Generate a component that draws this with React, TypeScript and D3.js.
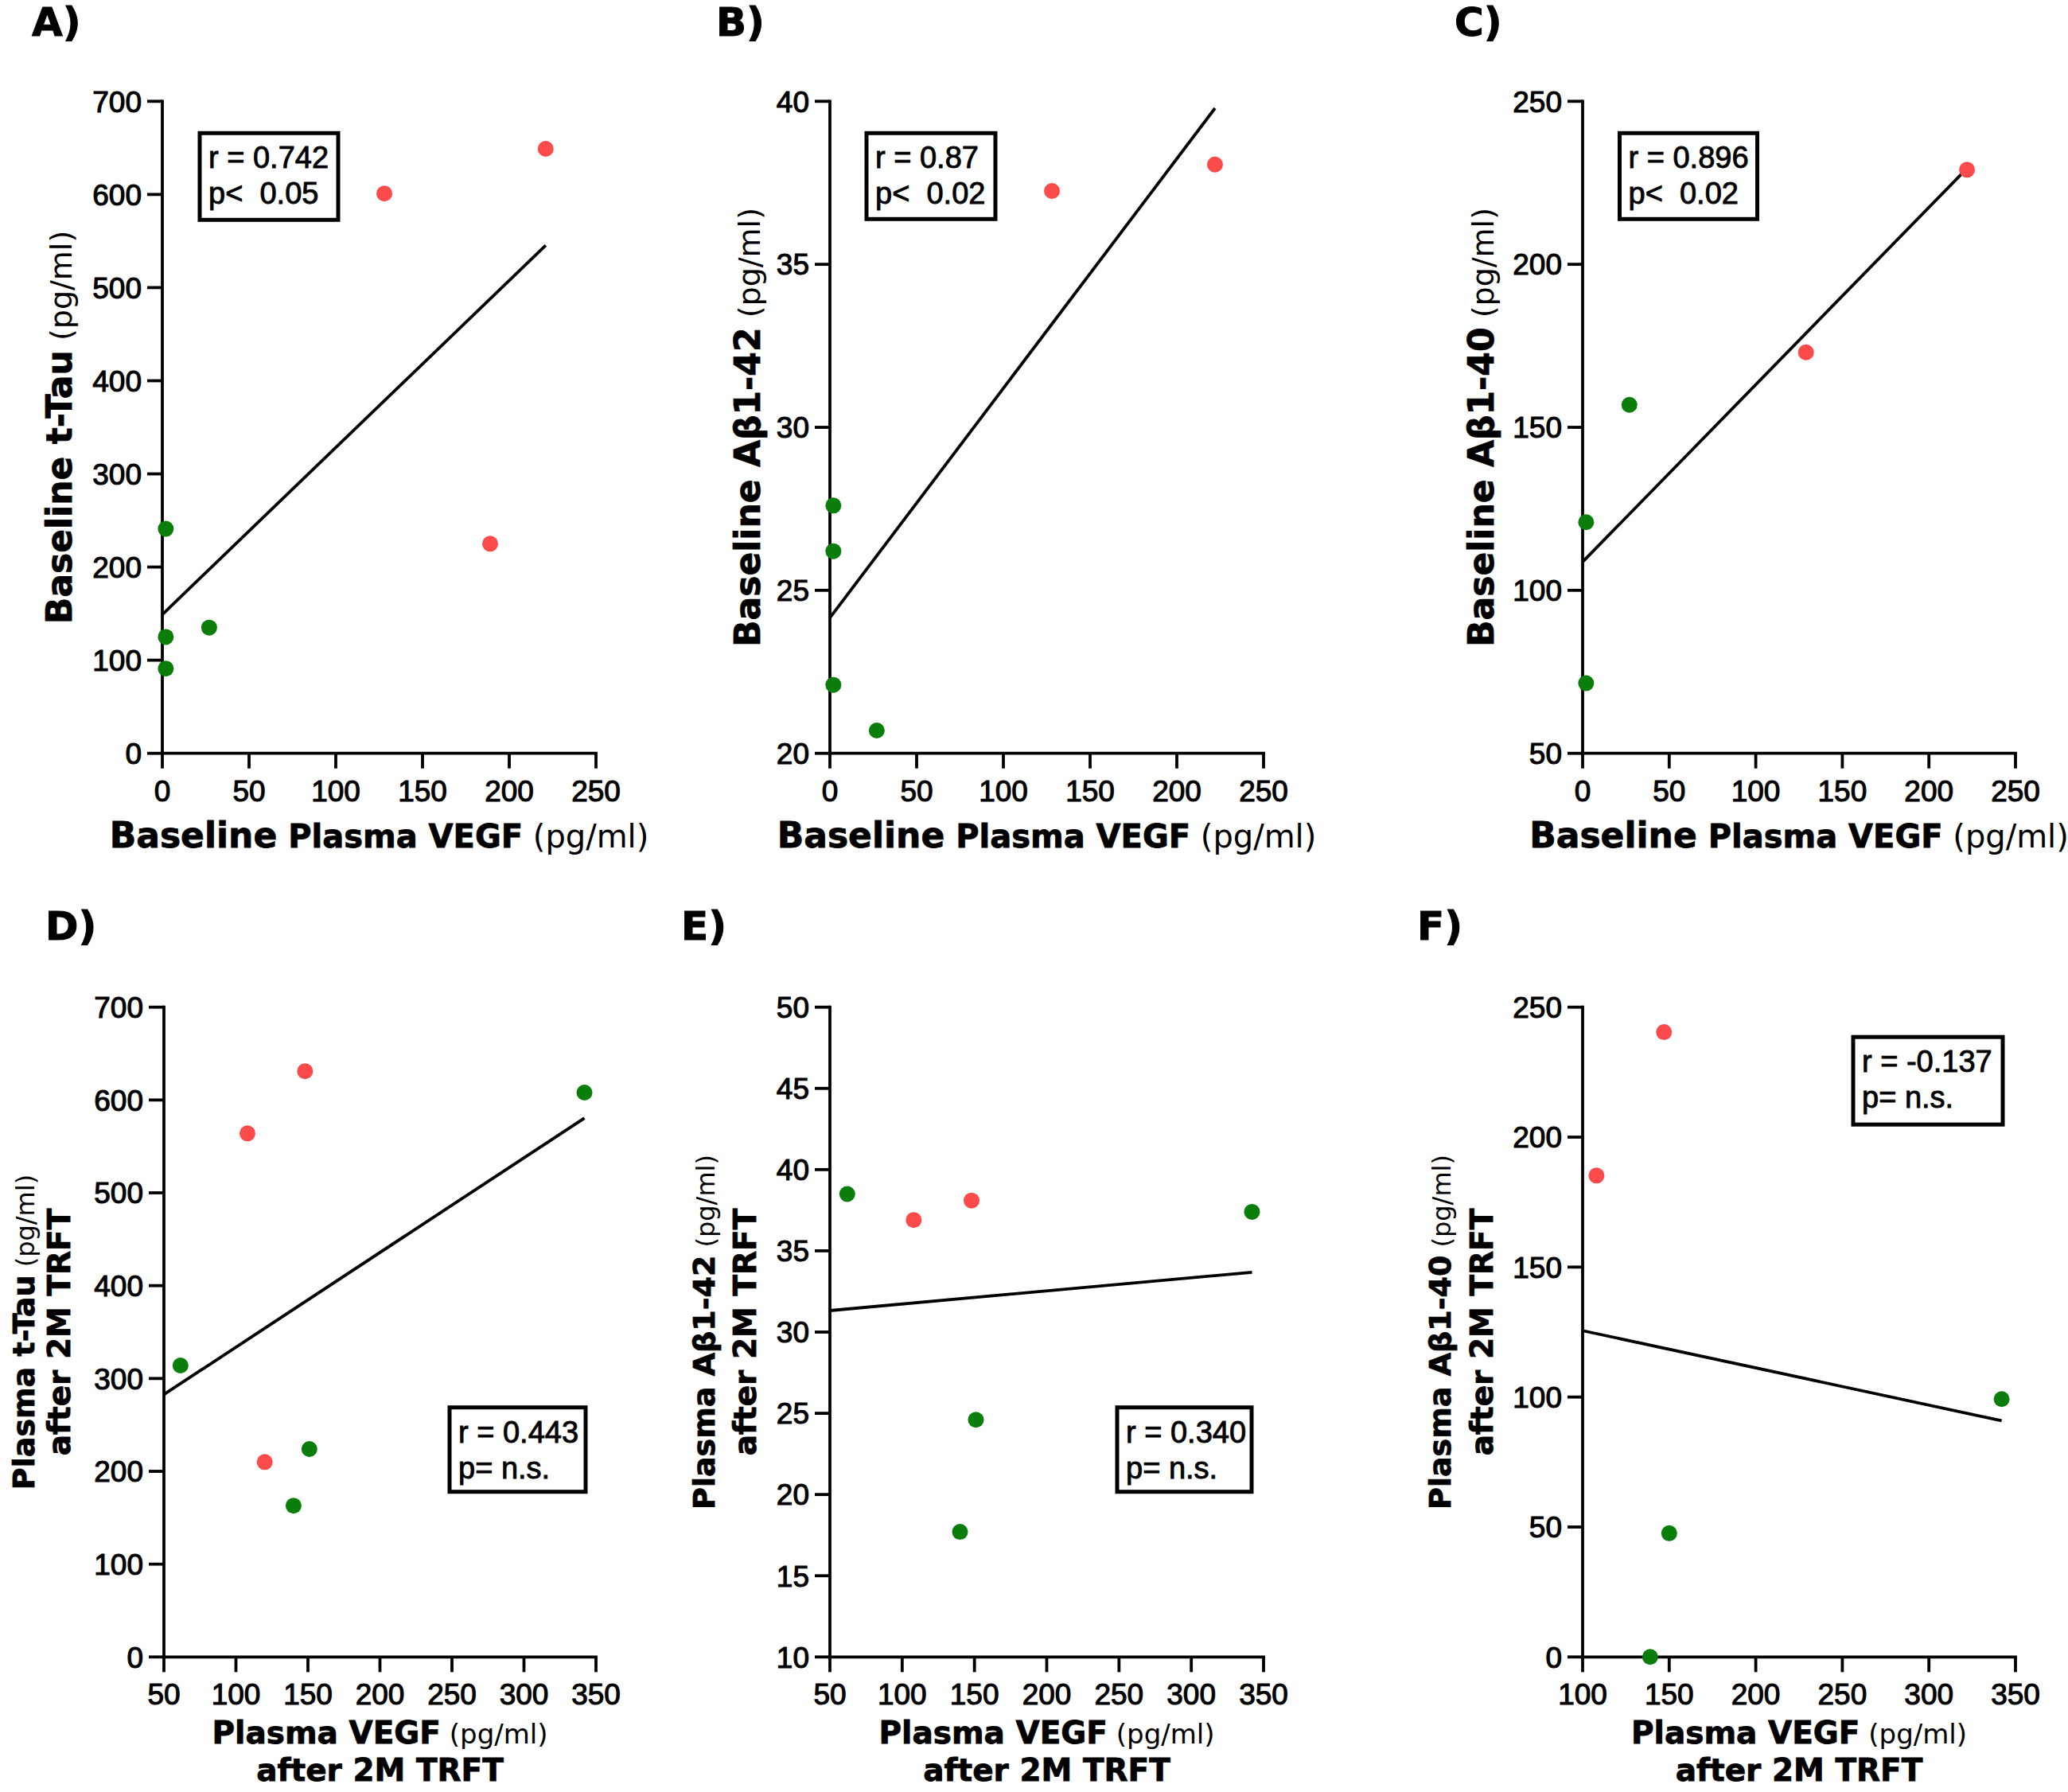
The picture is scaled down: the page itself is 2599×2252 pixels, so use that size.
import React from "react";
import * as d3 from "d3";

const W = 2599;
const H = 2252;

// ---------- DATA ----------
// Panel A: Baseline VEGF vs Baseline t-Tau
const aGreenX = [2, 2, 2, 27];
const aGreenY = [241, 125, 91, 135];
const aRedX = [128, 221, 189];
const aRedY = [601, 649, 225];
// Panel B: Baseline VEGF vs Baseline Aβ1-42
const bGreenX = [2, 2, 2, 27];
const bGreenY = [27.6, 26.2, 22.1, 20.7];
const bRedX = [128, 222];
const bRedY = [37.25, 38.06];
// Panel C: Baseline VEGF vs Baseline Aβ1-40
const cGreenX = [2, 2, 27];
const cGreenY = [120.9, 71.5, 156.9];
const cRedX = [129, 222];
const cRedY = [173, 229];
// Panel D: VEGF after 2M TRFT vs t-Tau after 2M TRFT
const dGreenX = [61.5, 342, 151, 140];
const dGreenY = [314, 608, 224, 163];
const dRedX = [108, 148, 120];
const dRedY = [564, 631, 210];
// Panel E: VEGF after 2M TRFT vs Aβ1-42 after 2M TRFT
const eGreenX = [62, 342, 151, 140];
const eGreenY = [38.5, 37.4, 24.6, 17.7];
const eRedX = [108, 148];
const eRedY = [36.9, 38.1];
// Panel F: VEGF after 2M TRFT vs Aβ1-40 after 2M TRFT
const fGreenX = [342, 150, 139];
const fGreenY = [99.2, 47.6, 0];
const fRedX = [108, 147];
const fRedY = [185.2, 240.4];

const ticksX0to250 = [0, 50, 100, 150, 200, 250];
const ticksX50to350 = [50, 100, 150, 200, 250, 300, 350];
const ticksX100to350 = [100, 150, 200, 250, 300, 350];
const ticksTau = [0, 100, 200, 300, 400, 500, 600, 700];
const ticksAb42Base = [20, 25, 30, 35, 40];
const ticksAb40Base = [50, 100, 150, 200, 250];
const ticksAb42After = [10, 15, 20, 25, 30, 35, 40, 45, 50];
const ticksAb40After = [0, 50, 100, 150, 200, 250];

const statsA = ["r = 0.742", "p<  0.05"];
const statsB = ["r = 0.87", "p<  0.02"];
const statsC = ["r = 0.896", "p<  0.02"];
const statsD = ["r = 0.443", "p= n.s."];
const statsE = ["r = 0.340", "p= n.s."];
const statsF = ["r = -0.137", "p= n.s."];

// ---------- STYLE ----------
const RED = "#fd4b4b";
const GREEN = "#0a7d0a";
const SANS = "'Liberation Sans', Arial, Helvetica, sans-serif";
const HEAVY = "'DejaVu Sans', Verdana, sans-serif";
const LW = 3.8;

type Part = { t: string; size: number; bold: boolean };

function zip(xs: number[], ys: number[]) {
  return xs.map((x, i) => [x, ys[i]] as [number, number]);
}

function fit(pts: [number, number][]) {
  const mx = d3.mean(pts, (p) => p[0]) as number;
  const my = d3.mean(pts, (p) => p[1]) as number;
  const sxy = d3.sum(pts, (p) => (p[0] - mx) * (p[1] - my));
  const sxx = d3.sum(pts, (p) => (p[0] - mx) * (p[0] - mx));
  const slope = sxy / sxx;
  return { slope, intercept: my - slope * mx };
}

function Parts({ parts }: { parts: Part[] }) {
  return (
    <>
      {parts.map((p, i) => (
        <tspan
          key={i}
          fontSize={p.size}
          fontWeight={p.bold ? "bold" : "normal"}
          fontFamily={HEAVY}
          stroke={p.bold ? "#000" : "none"}
          strokeWidth={p.bold ? 0.8 : 0}
        >
          {(i > 0 ? " " : "") + p.t}
        </tspan>
      ))}
    </>
  );
}

type PanelProps = {
  x0: number;
  x1: number;
  yTop: number;
  yBot: number;
  xDomain: [number, number];
  yDomain: [number, number];
  xTicks: number[];
  yTicks: number[];
  green: [number, number][];
  red: [number, number][];
  stats: string[];
  box: { dx: number; dy: number; w: number; h: number };
  label: { t: string; x: number; y: number };
  xTitle: { parts: Part[]; y: number }[];
  yTitle: { parts: Part[]; x: number }[];
};

function Panel(p: PanelProps) {
  const xs = d3.scaleLinear().domain(p.xDomain).range([p.x0, p.x1]);
  const ys = d3.scaleLinear().domain(p.yDomain).range([p.yBot, p.yTop]);
  const all = [...p.green, ...p.red];
  const { slope, intercept } = fit(all);
  const lx0 = p.xDomain[0];
  const lx1 = d3.max(all, (d) => d[0]) as number;
  const line = d3.line<number>()
    .x((x) => xs(x))
    .y((x) => ys(intercept + slope * x));
  const cx = (p.x0 + p.x1) / 2;
  const cy = (p.yTop + p.yBot) / 2;
  const bx = p.x0 + p.box.dx;
  const by = p.yTop + p.box.dy;
  return (
    <g>
      <text
        x={p.label.x}
        y={p.label.y}
        fontFamily={HEAVY}
        fontWeight="bold"
        fontSize={50}
        fill="#000"
        stroke="#000"
        strokeWidth={1}
      >
        {p.label.t}
      </text>
      {/* axes */}
      <line x1={p.x0} x2={p.x0} y1={p.yTop} y2={p.yBot} stroke="#000" strokeWidth={LW} strokeLinecap="square" />
      <line x1={p.x0} x2={p.x1} y1={p.yBot} y2={p.yBot} stroke="#000" strokeWidth={LW} strokeLinecap="square" />
      {p.yTicks.map((t) => (
        <g key={"y" + t}>
          <line x1={p.x0 - 19} x2={p.x0} y1={ys(t)} y2={ys(t)} stroke="#000" strokeWidth={LW} />
          <text
            x={p.x0 - 26}
            y={ys(t)}
            dy="0.36em"
            textAnchor="end"
            fontFamily={SANS}
            fontSize={37}
            fill="#000"
            stroke="#000"
            strokeWidth={1.1}
          >
            {t}
          </text>
        </g>
      ))}
      {p.xTicks.map((t) => (
        <g key={"x" + t}>
          <line x1={xs(t)} x2={xs(t)} y1={p.yBot} y2={p.yBot + 19} stroke="#000" strokeWidth={LW} />
          <text
            x={xs(t)}
            y={p.yBot + 60}
            textAnchor="middle"
            fontFamily={SANS}
            fontSize={37}
            fill="#000"
            stroke="#000"
            strokeWidth={1.1}
          >
            {t}
          </text>
        </g>
      ))}
      {/* regression line */}
      <path d={line([lx0, lx1]) || ""} stroke="#000" strokeWidth={LW} fill="none" />
      {/* points */}
      {p.green.map((d, i) => (
        <circle key={"g" + i} cx={xs(d[0])} cy={ys(d[1])} r={10} fill={GREEN} />
      ))}
      {p.red.map((d, i) => (
        <circle key={"r" + i} cx={xs(d[0])} cy={ys(d[1])} r={10} fill={RED} />
      ))}
      {/* stats box */}
      <rect x={bx} y={by} width={p.box.w} height={p.box.h} fill="#fff" stroke="#000" strokeWidth={5} />
      {p.stats.map((s, i) => (
        <text
          key={"s" + i}
          x={bx + 11}
          y={by + 44 + i * 45}
          fontFamily={SANS}
          fontSize={38}
          fill="#000"
          stroke="#000"
          strokeWidth={0.9}
          style={{ whiteSpace: "pre" }}
        >
          {s}
        </text>
      ))}
      {/* x title */}
      {p.xTitle.map((l, i) => (
        <text key={"xt" + i} x={cx} y={l.y} textAnchor="middle" fill="#000" style={{ whiteSpace: "pre" }}>
          <Parts parts={l.parts} />
        </text>
      ))}
      {/* y title */}
      {p.yTitle.map((l, i) => (
        <text
          key={"yt" + i}
          transform={`translate(${l.x},${cy}) rotate(-90)`}
          textAnchor="middle"
          fill="#000"
          style={{ whiteSpace: "pre" }}
        >
          <Parts parts={l.parts} />
        </text>
      ))}
    </g>
  );
}

const baseX: Part[] = [
  { t: "Baseline", size: 44, bold: true },
  { t: "Plasma VEGF", size: 40, bold: true },
  { t: "(pg/ml)", size: 40, bold: false },
];
const afterX1: Part[] = [
  { t: "Plasma VEGF", size: 39, bold: true },
  { t: "(pg/ml)", size: 34, bold: false },
];
const afterLine: Part[] = [{ t: "after 2M TRFT", size: 39, bold: true }];

export default function App() {
  const top = { yTop: 127.3, yBot: 946.7 };
  const bot = { yTop: 1265.7, yBot: 2082.3 };
  return (
    <svg
      width={W}
      height={H}
      viewBox={`0 0 ${W} ${H}`}
      style={{ position: "absolute", left: 0, top: 0, background: "#fff" }}
    >
      <rect x={0} y={0} width={W} height={H} fill="#fff" />
      <Panel
        x0={204} x1={749} {...top}
        xDomain={[0, 250]} yDomain={[0, 700]}
        xTicks={ticksX0to250} yTicks={ticksTau}
        green={zip(aGreenX, aGreenY)} red={zip(aRedX, aRedY)}
        stats={statsA}
        box={{ dx: 47, dy: 40, w: 174, h: 109 }}
        label={{ t: "A)", x: 40, y: 45 }}
        xTitle={[{ parts: baseX, y: 1065 }]}
        yTitle={[{ x: 90, parts: [
          { t: "Baseline t-Tau", size: 44, bold: true },
          { t: "(pg/ml)", size: 38, bold: false },
        ] }]}
      />
      <Panel
        x0={1043} x1={1588} {...top}
        xDomain={[0, 250]} yDomain={[20, 40]}
        xTicks={ticksX0to250} yTicks={ticksAb42Base}
        green={zip(bGreenX, bGreenY)} red={zip(bRedX, bRedY)}
        stats={statsB}
        box={{ dx: 46, dy: 40, w: 162, h: 108 }}
        label={{ t: "B)", x: 900, y: 45 }}
        xTitle={[{ parts: baseX, y: 1065 }]}
        yTitle={[{ x: 955, parts: [
          { t: "Baseline Aβ1-42", size: 44, bold: true },
          { t: "(pg/ml)", size: 38, bold: false },
        ] }]}
      />
      <Panel
        x0={1989} x1={2533} {...top}
        xDomain={[0, 250]} yDomain={[50, 250]}
        xTicks={ticksX0to250} yTicks={ticksAb40Base}
        green={zip(cGreenX, cGreenY)} red={zip(cRedX, cRedY)}
        stats={statsC}
        box={{ dx: 46.5, dy: 40, w: 173, h: 108 }}
        label={{ t: "C)", x: 1828, y: 45 }}
        xTitle={[{ parts: baseX, y: 1065 }]}
        yTitle={[{ x: 1877, parts: [
          { t: "Baseline Aβ1-40", size: 44, bold: true },
          { t: "(pg/ml)", size: 38, bold: false },
        ] }]}
      />
      <Panel
        x0={206} x1={749} {...bot}
        xDomain={[50, 350]} yDomain={[0, 700]}
        xTicks={ticksX50to350} yTicks={ticksTau}
        green={zip(dGreenX, dGreenY)} red={zip(dRedX, dRedY)}
        stats={statsD}
        box={{ dx: 359, dy: 503, w: 171, h: 106 }}
        label={{ t: "D)", x: 57, y: 1181 }}
        xTitle={[{ parts: afterX1, y: 2191 }, { parts: afterLine, y: 2238 }]}
        yTitle={[
          { x: 43, parts: [
            { t: "Plasma t-Tau", size: 38, bold: true },
            { t: "(pg/ml)", size: 32, bold: false },
          ] },
          { x: 88, parts: afterLine },
        ]}
      />
      <Panel
        x0={1043} x1={1588} {...bot}
        xDomain={[50, 350]} yDomain={[10, 50]}
        xTicks={ticksX50to350} yTicks={ticksAb42After}
        green={zip(eGreenX, eGreenY)} red={zip(eRedX, eRedY)}
        stats={statsE}
        box={{ dx: 361, dy: 503, w: 169, h: 106 }}
        label={{ t: "E)", x: 856, y: 1181 }}
        xTitle={[{ parts: afterX1, y: 2191 }, { parts: afterLine, y: 2238 }]}
        yTitle={[
          { x: 898, parts: [
            { t: "Plasma Aβ1-42", size: 38, bold: true },
            { t: "(pg/ml)", size: 32, bold: false },
          ] },
          { x: 950, parts: afterLine },
        ]}
      />
      <Panel
        x0={1989} x1={2533} {...bot}
        xDomain={[100, 350]} yDomain={[0, 250]}
        xTicks={ticksX100to350} yTicks={ticksAb40After}
        green={zip(fGreenX, fGreenY)} red={zip(fRedX, fRedY)}
        stats={statsF}
        box={{ dx: 340, dy: 37.5, w: 188, h: 110 }}
        label={{ t: "F)", x: 1781, y: 1181 }}
        xTitle={[{ parts: afterX1, y: 2191 }, { parts: afterLine, y: 2238 }]}
        yTitle={[
          { x: 1823, parts: [
            { t: "Plasma Aβ1-40", size: 38, bold: true },
            { t: "(pg/ml)", size: 32, bold: false },
          ] },
          { x: 1876, parts: afterLine },
        ]}
      />
    </svg>
  );
}
